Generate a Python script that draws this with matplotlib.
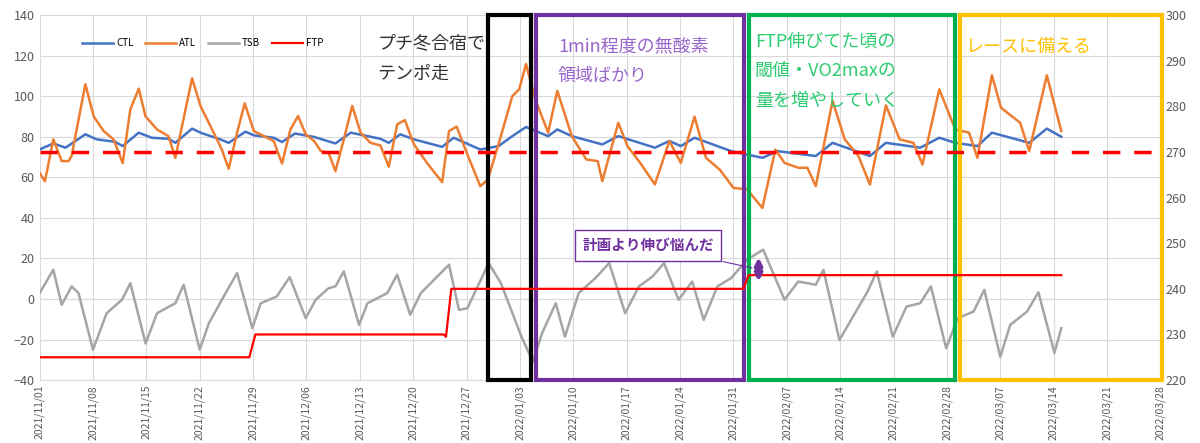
import matplotlib.pyplot as plt
import matplotlib.dates as mdates
from matplotlib.patches import Rectangle
import numpy as np
import pandas as pd

plt.rcParams['font.family'] = ['Noto Sans CJK JP', 'DejaVu Sans']

start = pd.Timestamp('2021-11-01')

# ATL (days from 2021/11/01, value)
atl_d = [0, 0.7, 1.8, 2.9, 3.8, 4.2, 6.0, 7.1, 8.4, 9.7, 10.9, 11.9, 13.0, 13.9, 15.4, 16.9, 17.8, 20.0, 21.1, 22.4,
         23.9, 24.8, 25.9, 26.9, 28.1, 29.4, 30.7, 31.8, 32.9, 33.9, 34.9, 36.0, 36.9, 37.9, 38.8, 39.9, 41.0, 42.1,
         43.4, 44.7, 45.8, 46.9, 47.9, 49.1, 50.8, 52.8, 53.7, 54.7, 56.1, 57.8, 58.8, 60.5, 62.0, 62.9, 63.8, 65.0,
         66.7, 67.9, 69.8, 71.7, 73.2, 73.8, 75.9, 77.1, 78.6, 80.7, 82.6, 84.1, 85.9, 87.4, 89.2, 91.0, 92.8, 94.8,
         96.5, 97.7, 99.5, 100.7, 101.8, 104.0, 105.6, 107.4, 108.9, 111.0, 112.8, 114.6, 115.8, 118.0, 120.1,
         121.9, 123.0, 124.9, 126.1, 128.6, 129.8, 132.1, 134.0]
atl_v = [62.2, 58, 78.7, 68, 68, 70.5, 105.9, 90, 82.8, 78.7, 67, 93.5, 103.7, 90, 83.6, 80.3, 69.6, 108.8, 95.2, 85.3,
         73.7, 64.2, 82, 96.5, 82.8, 80.3, 77.9, 66.8, 83.6, 90.2, 81.2, 77.9, 72.9, 72.1, 63, 78.7, 95.2, 82,
         77, 75.7, 65.2, 86.1, 88.2, 76.2, 67.1, 57.6, 82.8, 85, 71.3, 55.6, 58.9, 80.3, 100, 103.4, 115.8, 98.5,
         82, 102.6, 80.3, 68.8, 68, 58.1, 86.9, 75.4, 68, 56.5, 77.9, 67.1, 89.9, 69.6, 63.8, 54.8, 54, 44.9,
         73.7, 67.1, 64.7, 64.7, 55.6, 97.7, 78.7, 70.5, 56.4, 95.5, 78.7, 77, 66.3, 103.4, 83.6,
         82, 69.6, 110.3, 94.3, 86.9, 72.9, 110.3, 82.8]

ctl_d = [0, 1.8, 3.4, 6, 7.5, 9.9, 10.9, 13, 14.7, 16.9, 17.8, 20, 21.1, 23.7, 24.8, 27, 28.1, 30.7, 31.8, 33.5, 36,
         38.8, 40.8, 44.7, 45.8, 47.3, 49.1, 52.8, 54.3, 57.8, 60.2, 62, 63.8, 66.7, 67.9, 69.8, 73.8, 75.9, 80.7,
         82.6, 84.1, 85.9, 90.7, 94.8, 96.8, 101.8, 104, 108.9, 111, 115.5, 118, 120.1, 123, 124.9, 129.8, 132.1, 134]
ctl_v = [73.7, 76.7, 74.6, 81.2, 78.7, 77.5, 75.4, 82, 79.5, 79, 77, 84, 82, 78.7, 77, 82.5, 80.7, 79.5, 77.4, 81.6, 79.9,
         76.7, 82, 79, 77, 81.2, 78.7, 75, 79.5, 73.7, 75.4, 80.3, 84.8, 80.3, 83.6, 80.3, 76.2, 80.3, 74.6,
         77.9, 75.4, 79.5, 72.9, 69.6, 72.9, 70.5, 77, 70.5, 77, 74.6, 79.5, 77, 75.4, 82, 77, 84, 80]

tsb_d = [0, 1.8, 2.9, 4.2, 5.1, 7, 8.8, 10.8, 11.9, 13.9, 15.4, 17.8, 18.9, 21, 22.2, 23.9, 25.9, 27.9, 29, 31.1, 32.8,
         34.9, 36.2, 37.9, 38.8, 39.9, 41.9, 43, 45.6, 46.9, 48.6, 50, 53.7, 55, 56.1, 58.9, 60.5, 63.2, 64.7, 65.9,
         67.7, 68.9, 70.7, 72.9, 74.7, 76.8, 78.6, 80.4, 81.9, 83.8, 85.6, 87.1, 88.9, 90.7, 92.8, 94.9, 97.7,
         99.5, 101.8, 102.8, 104.9, 108.6, 109.8, 111.9, 113.7, 115.5, 116.9, 118.9, 120.4, 122.5, 123.9, 126,
         127.3, 129.5, 131, 133.1, 134]
tsb_v = [2.9, 14.4, -2.9, 6.2, 2.9, -25, -7, -0.4, 7.8, -21.9, -7, -2.1, 7, -25, -12, -0.4, 12.8, -14.4, -2.1, 1.2, 10.8,
         -9.5, -0.4, 5.3, 6.2, 13.6, -12.8, -2.1, 2.9, 12, -7.8, 2.9, 16.9, -5.4, -4.6, 17.7, 7.8, -18.6, -30.9, -16.9,
         -2.1, -18.6, 2.9, 10.3, 17.7, -7, 6.2, 11.1, 17.7, -0.4, 8.6, -10.3, 6.2, 10.3, 19.4, 24.3, -0.4,
         8.6, 7, 14.4, -20.2, 3.7, 13.6, -18.6, -3.7, -2.1, 6.2, -24.3, -9.5, -6.2, 4.5, -28.5,
         -12.8, -6.2, 3.3, -26.6, -14.4]

# FTP on right axis
ftp_d = [0, 27.5, 28.3, 53.0, 53.3, 54.0, 92.3, 93.0, 134]
ftp_v = [225, 225, 230, 230, 229.5, 240, 240, 243, 243]
ftp_target = 270

def to_dates(days):
    return [start + pd.Timedelta(days=d) for d in days]

fig = plt.figure(figsize=(12, 4.43), dpi=100)
ax = fig.add_axes([0.033, 0.142, 0.934, 0.824])
ax2 = ax.twinx()

ax.plot(to_dates(ctl_d), ctl_v, color='#4472c4', lw=1.8, label='CTL')
ax.plot(to_dates(atl_d), atl_v, color='#ed7d31', lw=1.8, label='ATL')
ax.plot(to_dates(tsb_d), tsb_v, color='#a5a5a5', lw=1.8, label='TSB')
ax2.plot(to_dates(ftp_d), ftp_v, color='red', lw=1.6, label='FTP')
ax2.axhline(ftp_target, color='red', lw=2.5, ls=(0, (5, 4)))

ax.set_ylim(-40, 140)
ax.set_yticks(range(-40, 141, 20))
ax2.set_ylim(220, 300)
ax2.set_yticks(range(220, 301, 10))
ax.set_xlim(start, pd.Timestamp('2022-03-28'))
ax.set_xticks(pd.date_range('2021-11-01', '2022-03-28', freq='7D'))
ax.xaxis.set_major_formatter(mdates.DateFormatter('%Y/%m/%d'))
for lab in ax.get_xticklabels():
    lab.set_rotation(90)
ax.tick_params(axis='y', labelsize=9, colors='#595959', length=0)
ax.tick_params(axis='x', labelsize=7.5, colors='#595959', length=0)
ax2.tick_params(labelsize=9, colors='#595959', length=0)
ax.grid(color='#d9d9d9', lw=0.8)
ax.set_axisbelow(True)
for a in (ax, ax2):
    for s in a.spines.values():
        s.set_visible(False)
ax.spines['bottom'].set_visible(True)
ax.spines['bottom'].set_color('#d9d9d9')

h1, l1 = ax.get_legend_handles_labels()
h2, l2 = ax2.get_legend_handles_labels()
ax.legend(h1 + h2, l1 + l2, ncol=4, frameon=False, fontsize=7, loc='upper left',
          bbox_to_anchor=(0.03, 0.96), handlelength=3.2, columnspacing=1.2, handletextpad=0.3)

# phase boxes
def box(d0, d1, color):
    x0 = mdates.date2num(start + pd.Timedelta(days=d0))
    x1 = mdates.date2num(start + pd.Timedelta(days=d1))
    ax.add_patch(Rectangle((x0, -40), x1 - x0, 180, fill=False, ec=color, lw=3, clip_on=False, zorder=5))

box(58.8, 64.4, 'black')
box(65.1, 92.4, '#7030a0')
box(93.0, 120.1, '#00b050')
box(120.7, 147.2, '#ffc000')

def dx(d):
    return start + pd.Timedelta(days=d)

fs = 13
ax.text(dx(44.3), 126, 'プチ冬合宿で', fontsize=fs, color='#333333', va='center')
ax.text(dx(44.3), 111, 'テンポ走', fontsize=fs, color='#333333', va='center')
ax.text(dx(68), 124.5, '1min程度の無酸素', fontsize=fs, color='#9966cc', va='center')
ax.text(dx(68), 110, '領域ばかり', fontsize=fs, color='#9966cc', va='center')
ax.text(dx(93.8), 127, 'FTP伸びてた頃の', fontsize=fs, color='#2ecc71', va='center')
ax.text(dx(93.8), 112.5, '閾値・VO2maxの', fontsize=fs, color='#2ecc71', va='center')
ax.text(dx(93.8), 97.5, '量を増やしていく', fontsize=fs, color='#2ecc71', va='center')
ax.text(dx(121.5), 124.5, 'レースに備える', fontsize=fs, color='#ffc000', va='center')

ax.annotate('計画より伸び悩んだ', xy=(dx(93.8), 15), xytext=(dx(71.2), 26.5),
            fontsize=10.5, fontweight='bold', color='#7030a0', va='center', zorder=6,
            bbox=dict(boxstyle='square,pad=0.5', fc='white', ec='#7030a0', lw=1),
            arrowprops=dict(arrowstyle='-', color='#7030a0', lw=0.8))
ax2.annotate('', xy=(dx(94.3), 241), xytext=(dx(94.3), 247.5),
             arrowprops=dict(arrowstyle='<|-|>', color='#7030a0', lw=3, mutation_scale=10))

fig.savefig('out.png')
